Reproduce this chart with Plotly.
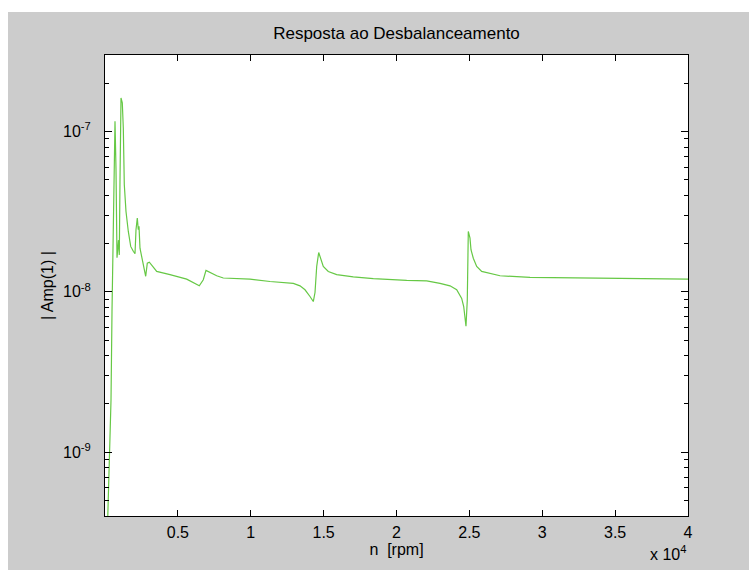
import plotly.graph_objects as go

# rotational speed [rpm]
rpm = [100, 274, 412, 480, 549, 638, 686, 755, 823, 926, 981, 1029, 1098, 1187,
       1256, 1324, 1441, 1599, 1763, 1942, 2058, 2127, 2216, 2285, 2333, 2401,
       2518, 2628, 2792, 2902, 3040, 3273, 3547, 4460, 5605, 6470, 6744, 6930,
       7204, 7664, 8116, 8803, 9949, 11321, 12920, 13379, 13722, 14065, 14291,
       14408, 14525, 14662, 14751, 14977, 15320, 15897, 17036, 18408, 20700,
       22072, 22984, 23671, 24130, 24473, 24611, 24768, 24857, 24926, 25042,
       25111, 25269, 25502, 25845, 26415, 27101, 29159, 32000, 36000, 40000]

# |Amp(1)| response
amp = [2.0e-10, 7.8e-10, 2.1e-9, 7.5e-9, 1.97e-8, 5.5e-8, 1.16e-7, 5.8e-8,
       1.63e-8, 2.1e-8, 1.7e-8, 5.0e-8, 1.62e-7, 1.51e-7, 1.05e-7, 4.65e-8,
       3.17e-8, 2.38e-8, 1.92e-8, 1.79e-8, 1.73e-8, 2.44e-8, 2.88e-8, 2.44e-8,
       2.56e-8, 1.87e-8, 1.66e-8, 1.44e-8, 1.25e-8, 1.51e-8, 1.53e-8, 1.44e-8,
       1.34e-8, 1.28e-8, 1.20e-8, 1.09e-8, 1.19e-8, 1.36e-8, 1.32e-8, 1.26e-8,
       1.22e-8, 1.21e-8, 1.20e-8, 1.16e-8, 1.13e-8, 1.09e-8, 1.03e-8, 9.35e-9,
       8.7e-9, 9.9e-9, 1.44e-8, 1.76e-8, 1.66e-8, 1.44e-8, 1.34e-8, 1.28e-8,
       1.24e-8, 1.21e-8, 1.18e-8, 1.17e-8, 1.13e-8, 1.09e-8, 1.03e-8, 9.1e-9,
       8.1e-9, 6.1e-9, 8.9e-9, 2.38e-8, 2.16e-8, 1.83e-8, 1.62e-8, 1.44e-8,
       1.34e-8, 1.30e-8, 1.26e-8, 1.23e-8, 1.22e-8, 1.21e-8, 1.20e-8]

x_tickvals = [5000, 10000, 15000, 20000, 25000, 30000, 35000, 40000]
x_ticktext = ["0.5", "1", "1.5", "2", "2.5", "3", "3.5", "4"]
y_tickvals = [1e-9, 1e-8, 1e-7]
y_ticktext = ["10<sup>-9</sup>", "10<sup>-8</sup>", "10<sup>-7</sup>"]
y_minor = [k * 10.0 ** d for d in (-10, -9, -8, -7) for k in range(2, 10)]

FONT = "Liberation Sans, Arial, sans-serif"
GRAY = "#cccccc"

fig = go.Figure()
fig.add_trace(go.Scatter(x=rpm, y=amp, mode="lines",
                         line=dict(color="#66c845", width=1.2),
                         showlegend=False, hoverinfo="skip"))

L, R, T, B = 105, 61, 55, 54
W, H = 749, 570
pw, ph = W - L - R, H - T - B

fig.update_layout(
    width=W, height=H,
    margin=dict(l=L, r=R, t=T, b=B, pad=0),
    paper_bgcolor=GRAY, plot_bgcolor="white",
    font=dict(family=FONT, size=16, color="black"),
    title=dict(text="Resposta ao Desbalanceamento", x=(L + pw / 2) / W,
               xanchor="center", y=1 - 33 / H, yanchor="middle",
               font=dict(size=17)),
    xaxis=dict(range=[0, 40000], tickmode="array", tickvals=x_tickvals,
               ticktext=x_ticktext, ticks="inside", ticklen=6,
               tickcolor="black", showline=True, linecolor="black",
               linewidth=1, mirror="ticks", showgrid=False, zeroline=False,
               ticklabelstandoff=2,
               title=dict(text="n  [rpm]", standoff=0, font=dict(size=16))),
    yaxis=dict(type="log", range=[-9.398, -6.523], tickmode="array",
               tickvals=y_tickvals, ticktext=y_ticktext, ticks="inside",
               ticklen=7, tickcolor="black", showline=True,
               linecolor="black", linewidth=1, mirror="ticks",
               showgrid=False, zeroline=False, ticklabelstandoff=10,
               minor=dict(tickmode="array", tickvals=y_minor,
                          ticks="inside", ticklen=4, tickcolor="black",
                          showgrid=False),
               title=dict(text="| Amp(1) |", standoff=5,
                          font=dict(size=16))),
    shapes=[
        dict(type="rect", xref="paper", yref="paper",
             x0=-L / pw - 0.01, x1=(8 - L) / pw, y0=-B / ph - 0.01,
             y1=(H - B) / ph + 0.01, fillcolor="white", line=dict(width=0)),
        dict(type="rect", xref="paper", yref="paper",
             x0=-L / pw - 0.01, x1=1 + R / pw + 0.01, y0=(H - B - 12) / ph,
             y1=(H - B) / ph + 0.01, fillcolor="white", line=dict(width=0)),
    ],
    annotations=[
        dict(text="x 10<sup>4</sup>", xref="paper", yref="paper",
             x=1.0, y=-(553 - (H - B)) / ph, xanchor="right",
             yanchor="middle", showarrow=False, font=dict(size=16)),
    ],
)

fig.write_html("out.html", config={"displayModeBar": False},
               post_script="document.body.style.margin='0';"
                           "document.body.style.overflow='hidden';")
